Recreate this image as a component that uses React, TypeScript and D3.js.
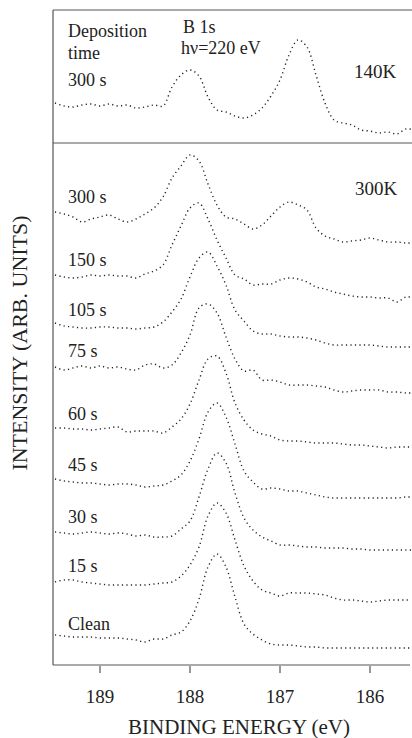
import * as d3 from "d3";

// binding energy grid (eV), shared by every spectrum
const energy = [
  189.5, 189.4, 189.3, 189.2, 189.1, 189.0, 188.9, 188.8, 188.7, 188.6,
  188.5, 188.4, 188.3, 188.2, 188.1, 188.0, 187.9, 187.8, 187.7, 187.6,
  187.5, 187.4, 187.3, 187.2, 187.1, 187.0, 186.9, 186.8, 186.7, 186.6,
  186.5, 186.4, 186.3, 186.2, 186.1, 186.0, 185.9, 185.8, 185.7, 185.6, 185.5,
];

// stacked intensities (arb. units), already offset as in the figure
const cold300 = [
  597, 594, 593, 595, 596, 594, 596, 594, 595, 592, 593, 595, 594, 613, 625, 630, 624, 603, 590, 588,
  584, 582, 585, 592, 604, 620, 645, 660, 653, 625, 597, 580, 577, 575, 570, 569, 567, 568, 566, 571, 570,
];
const s300 = [
  488, 486, 483, 478, 481, 483, 485, 481, 478, 481, 486, 492, 503, 522, 534, 545, 539, 516, 495, 483,
  481, 476, 471, 475, 484, 493, 498, 495, 490, 472, 464, 461, 458, 459, 460, 462, 460, 458, 458, 457, 457,
];
const s150 = [
  425, 423, 422, 423, 425, 424, 425, 424, 424, 422, 426, 429, 435, 455, 474, 492, 497, 481, 460, 442,
  425, 421, 415, 416, 416, 420, 422, 421, 418, 413, 411, 408, 406, 404, 403, 403, 402, 402, 398, 403, 402,
];
const s105 = [
  377, 374, 373, 372, 372, 373, 373, 372, 372, 371, 372, 373, 378, 388, 401, 423, 442, 448, 434, 415,
  390, 379, 369, 366, 366, 364, 363, 363, 362, 360, 357, 355, 355, 355, 355, 355, 354, 353, 353, 353, 353,
];
const s75 = [
  333, 330, 332, 334, 332, 334, 332, 333, 331, 330, 335, 336, 332, 335, 347, 365, 392, 396, 387, 363,
  341, 329, 330, 320, 320, 318, 315, 315, 315, 314, 313, 310, 308, 309, 310, 310, 310, 308, 308, 307, 307,
];
const s60 = [
  272, 272, 271, 271, 270, 271, 272, 273, 268, 269, 269, 269, 267, 273, 281, 296, 320, 341, 344, 327,
  297, 280, 270, 266, 264, 260, 259, 259, 258, 257, 257, 257, 256, 255, 255, 254, 253, 252, 253, 253, 253,
];
const s45 = [
  221, 219, 218, 217, 217, 216, 215, 216, 216, 215, 213, 214, 215, 219, 225, 239, 261, 288, 297, 283,
  256, 229, 218, 211, 212, 211, 209, 209, 207, 205, 203, 202, 202, 202, 202, 202, 202, 202, 202, 203, 203,
];
const s30 = [
  168, 167, 166, 167, 168, 167, 166, 167, 166, 164, 165, 163, 163, 164, 171, 179, 203, 231, 247, 237,
  207, 182, 170, 163, 159, 155, 155, 154, 153, 153, 152, 152, 152, 151, 151, 150, 150, 150, 150, 150, 150,
];
const s15 = [
  118, 120, 120, 118, 117, 116, 115, 115, 115, 115, 115, 116, 117, 118, 124, 135, 153, 184, 197, 187,
  160, 134, 119, 110, 107, 104, 107, 107, 107, 106, 105, 102, 100, 100, 99, 98, 99, 100, 100, 100, 100,
];
const clean = [
  65, 64, 63, 63, 63, 62, 62, 62, 61, 60, 58, 61, 61, 65, 68, 79, 101, 133, 146, 133,
  103, 76, 66, 60, 56, 55, 55, 54, 53, 53, 52, 52, 52, 52, 52, 52, 52, 52, 52, 52, 52,
];

const seriesNames = ["300 s", "300 s", "150 s", "105 s", "75 s", "60 s", "45 s", "30 s", "15 s", "Clean"];
const seriesValues = [cold300, s300, s150, s105, s75, s60, s45, s30, s15, clean];
const labelDy = [-17, -9, -9, -7, -10, -8, -8, -9, -10, -5];

const xTicks = [189, 188, 187, 186];

const W = 412;
const H = 738;
const left = 53;
const right = 412;
const top = 10;
const split = 143;
const bottom = 665;
const font = "Liberation Serif, Tinos, DejaVu Serif, serif";
const ink = "#222";

export default function App() {
  const x = d3.scaleLinear().domain([189, 186]).range([100, 370]);
  const y = d3.scaleLinear().domain([35, 690]).range([bottom, top]);

  const line = d3
    .line<number>()
    .x((_, i) => x(energy[i]))
    .y((d) => y(d))
    .curve(d3.curveCatmullRom.alpha(0.5));

  return (
    <svg width={W} height={H} style={{ position: "absolute", left: 0, top: 0, background: "#fff", fontFamily: font }}>
      <defs>
        <clipPath id="plot">
          <rect x={left + 1} y={top} width={right - left - 2} height={bottom - top} />
        </clipPath>
      </defs>

      {/* frame */}
      <g stroke="#333" strokeWidth={1} fill="none">
        <line x1={left} y1={top} x2={left} y2={bottom} />
        <line x1={left} y1={top} x2={right} y2={top} stroke="#555" />
        <line x1={left} y1={split} x2={right} y2={split} stroke="#555" />
        <line x1={left} y1={bottom} x2={right - 2} y2={bottom} stroke="#555" />
        {xTicks.map((t) => (
          <line key={t} x1={x(t)} x2={x(t)} y1={bottom + 1} y2={bottom + 8} />
        ))}
      </g>

      {/* spectra */}
      <g clipPath="url(#plot)" fill="none" stroke={ink} strokeWidth={1.4} strokeDasharray="1.2 3.3">
        {seriesValues.map((vals, i) => (
          <path key={i} d={line(vals) ?? ""} />
        ))}
      </g>

      {/* labels */}
      <g style={{ fontFamily: font }} fontSize={18} fill={ink}>
        {seriesNames.map((name, i) => (
          <text key={i} x={68} y={y(seriesValues[i][0]) + labelDy[i]}>
            {name}
          </text>
        ))}
        <text x={68} y={37}>Deposition</text>
        <text x={68} y={59}>time</text>
        <text x={183} y={33}>B 1s</text>
        <text x={181} y={54}>hν=220 eV</text>
        <text x={354} y={78} fontSize={19}>140K</text>
        <text x={355} y={195} fontSize={19}>300K</text>
      </g>

      {/* x axis */}
      <g style={{ fontFamily: font }} fill={ink} textAnchor="middle">
        {xTicks.map((t) => (
          <text key={t} x={x(t)} y={703} fontSize={19}>
            {t}
          </text>
        ))}
        <text x={239} y={734} fontSize={21}>BINDING ENERGY (eV)</text>
        <text transform={`translate(27, 343) rotate(-90)`} fontSize={22}>
          INTENSITY (ARB. UNITS)
        </text>
      </g>
    </svg>
  );
}
